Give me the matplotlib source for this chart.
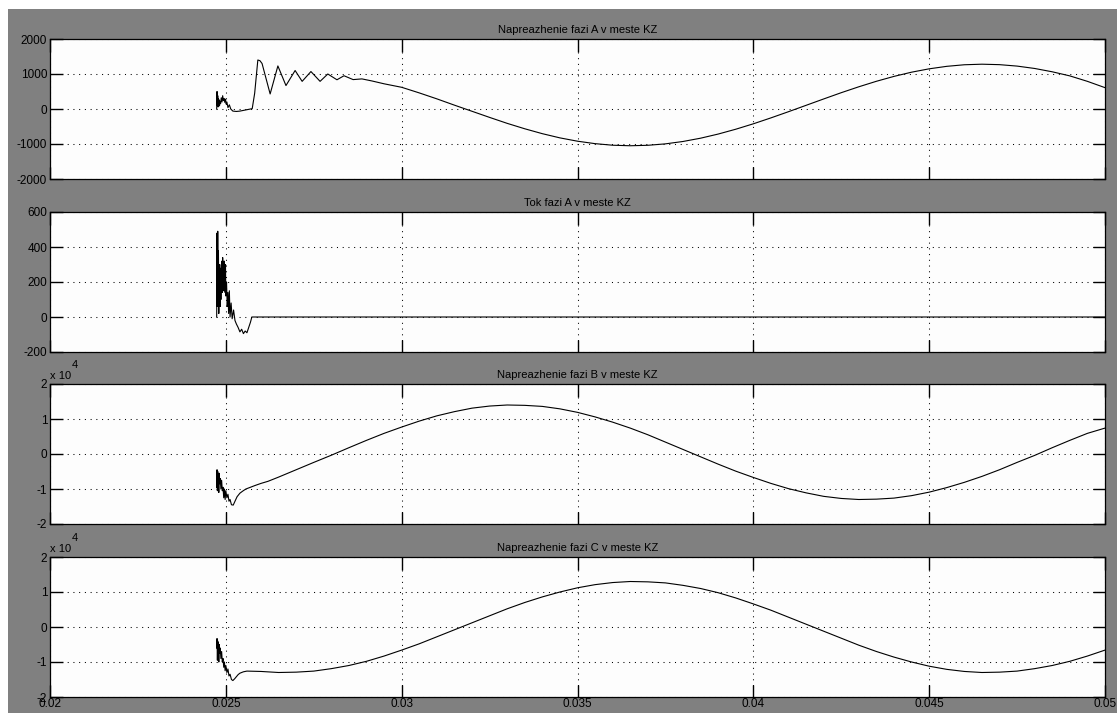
import matplotlib
matplotlib.use("Agg")
import matplotlib.pyplot as plt
from matplotlib.patches import Rectangle

plt.rcParams['font.family'] = ['Liberation Sans', 'DejaVu Sans']
plt.rcParams['axes.unicode_minus'] = False

# ---------------- data ----------------
titles = ["Napreazhenie fazi A v meste KZ", "Tok fazi A v meste KZ",
          "Napreazhenie fazi B v meste KZ", "Napreazhenie fazi C v meste KZ"]

# Voltage phase A [V]
t_ua = [0.02474, 0.02475, 0.02476, 0.02477, 0.02478, 0.02479, 0.02480, 0.02481, 0.02482,
        0.02483, 0.02485, 0.02487, 0.02489, 0.02491, 0.02493, 0.02495, 0.02497, 0.02499,
        0.02501, 0.02503, 0.02506, 0.02510, 0.02514, 0.02520, 0.02530, 0.02540, 0.02550,
        0.02560, 0.02575, 0.02582, 0.02591, 0.02597, 0.02603, 0.02626, 0.02648, 0.02671,
        0.02697, 0.02717, 0.02742, 0.02768, 0.02790, 0.02816, 0.02836, 0.02862, 0.02887,
        0.02916, 0.02950, 0.03000, 0.03050, 0.03100, 0.03150, 0.03200, 0.03250, 0.03300,
        0.03350, 0.03400, 0.03450, 0.03500, 0.03550, 0.03600, 0.03650, 0.03700, 0.03750,
        0.03800, 0.03850, 0.03900, 0.03950, 0.04000, 0.04050, 0.04100, 0.04150, 0.04200,
        0.04250, 0.04300, 0.04350, 0.04400, 0.04450, 0.04500, 0.04550, 0.04600, 0.04650,
        0.04700, 0.04750, 0.04800, 0.04850, 0.04900, 0.04950, 0.05000]
u_a = [0, 500, 100, 380, 60, 300, 150, 260, 90,
       220, 150, 320, 200, 380, 240, 300, 190, 280,
       140, 200, 40, 120, 0, -60, -70, -60, -40,
       -20, 10, 450, 1400, 1380, 1300, 430, 1230, 670,
       1100, 790, 1070, 790, 1000, 835, 950, 840, 860,
       800, 720, 620, 460, 290, 110, -65, -240, -410,
       -565, -705, -825, -920, -990, -1035, -1050, -1037, -996,
       -928, -834, -716, -578, -423, -254, -77, 105, 287,
       466, 635, 792, 932, 1052, 1148, 1219, 1264, 1280,
       1267, 1226, 1158, 1063, 946, 790, 610]

# Current phase A [A]
t_ia = [0.02474, 0.02475, 0.02476, 0.02477, 0.02478, 0.02479, 0.02480, 0.02481, 0.02482,
        0.02483, 0.02484, 0.02485, 0.02486, 0.02487, 0.02488, 0.02489, 0.02490, 0.02491,
        0.02492, 0.02493, 0.02494, 0.02495, 0.02496, 0.02497, 0.02498, 0.02499, 0.02500,
        0.02502, 0.02504, 0.02506, 0.02508, 0.02510, 0.02512, 0.02515, 0.02518, 0.02522,
        0.02526, 0.02530, 0.02535, 0.02540, 0.02545, 0.02550, 0.02555, 0.02560, 0.02565,
        0.02570, 0.02574, 0.05000]
i_a = [0, 480, 60, 490, 120, 380, 20, 300, 80,
       280, 60, 250, 100, 300, 150, 320, 140, 340,
       200, 300, 150, 320, 180, 260, 140, 300, 120,
       200, 60, 140, 20, 150, 0, 80, -10, 40,
       -20, -40, -60, -85, -70, -95, -80, -90, -60,
       -30, 0, 0]

# Voltage phase B [x 10^4 V]
t_ub = [0.02474, 0.02475, 0.02476, 0.02477, 0.02478, 0.02479, 0.02480, 0.02481, 0.02482,
        0.02484, 0.02486, 0.02488, 0.02490, 0.02492, 0.02494, 0.02496, 0.02498, 0.02500,
        0.02503, 0.02506, 0.02509, 0.02512, 0.02516, 0.02521, 0.02526, 0.02532, 0.02540,
        0.02548, 0.02557, 0.02570, 0.02583, 0.02600, 0.02620, 0.02650, 0.02700, 0.02750,
        0.02800, 0.02850, 0.02900, 0.02950, 0.03000, 0.03050, 0.03100, 0.03150, 0.03200,
        0.03250, 0.03300, 0.03350, 0.03400, 0.03450, 0.03500, 0.03550, 0.03600, 0.03650,
        0.03700, 0.03750, 0.03800, 0.03850, 0.03900, 0.03950, 0.04000, 0.04050, 0.04100,
        0.04150, 0.04200, 0.04250, 0.04300, 0.04350, 0.04400, 0.04450, 0.04500, 0.04550,
        0.04600, 0.04650, 0.04700, 0.04750, 0.04800, 0.04850, 0.04900, 0.04950, 0.05000]
u_b = [-0.95, -0.45, -1.05, -0.5, -0.9, -0.6, -1.1, -0.55, -0.85,
       -0.7, -1.0, -0.75, -1.05, -0.95, -1.25, -1.0, -1.3, -1.05,
       -1.25, -1.15, -1.35, -1.3, -1.45, -1.46, -1.35, -1.22, -1.12,
       -1.06, -1.0, -0.95, -0.9, -0.84, -0.78, -0.66, -0.45, -0.24,
       -0.035, 0.18, 0.39, 0.59, 0.77, 0.94, 1.09, 1.21, 1.31,
       1.37, 1.40, 1.39, 1.36, 1.29, 1.19, 1.06, 0.91, 0.74,
       0.55, 0.34, 0.13, -0.08, -0.29, -0.49, -0.67, -0.84, -0.99,
       -1.11, -1.21, -1.27, -1.30, -1.29, -1.26, -1.19, -1.09, -0.96,
       -0.81, -0.64, -0.45, -0.24, -0.04, 0.18, 0.39, 0.59, 0.74]

# Voltage phase C [x 10^4 V]
t_uc = [0.02474, 0.02475, 0.02476, 0.02477, 0.02478, 0.02479, 0.02480, 0.02481, 0.02482,
        0.02484, 0.02486, 0.02488, 0.02490, 0.02492, 0.02494, 0.02496, 0.02498, 0.02500,
        0.02503, 0.02506, 0.02509, 0.02512, 0.02516, 0.02520, 0.02525, 0.02530, 0.02535,
        0.02540, 0.02550, 0.02560, 0.02600, 0.02650, 0.02700, 0.02750, 0.02800, 0.02850,
        0.02900, 0.02950, 0.03000, 0.03050, 0.03100, 0.03150, 0.03200, 0.03250, 0.03300,
        0.03350, 0.03400, 0.03450, 0.03500, 0.03550, 0.03600, 0.03650, 0.03700, 0.03750,
        0.03800, 0.03850, 0.03900, 0.03950, 0.04000, 0.04050, 0.04100, 0.04150, 0.04200,
        0.04250, 0.04300, 0.04350, 0.04400, 0.04450, 0.04500, 0.04550, 0.04600, 0.04650,
        0.04700, 0.04750, 0.04800, 0.04850, 0.04900, 0.04950, 0.05000]
u_c = [-0.6, -0.33, -0.95, -0.4, -0.8, -0.45, -1.0, -0.5, -0.75,
       -0.6, -0.9, -0.7, -1.0, -0.9, -1.15, -1.0, -1.25, -1.1,
       -1.3, -1.2, -1.4, -1.35, -1.5, -1.53, -1.48, -1.42, -1.36,
       -1.32, -1.28, -1.26, -1.27, -1.30, -1.29, -1.26, -1.19, -1.10,
       -0.98, -0.83, -0.66, -0.48, -0.28, -0.08, 0.12, 0.32, 0.52,
       0.70, 0.86, 1.00, 1.12, 1.21, 1.27, 1.30, 1.29, 1.26,
       1.19, 1.10, 0.98, 0.83, 0.66, 0.48, 0.28, 0.08, -0.12,
       -0.32, -0.52, -0.70, -0.86, -1.00, -1.12, -1.21, -1.27, -1.30,
       -1.29, -1.26, -1.19, -1.10, -0.98, -0.83, -0.66]

series_t = [t_ua, t_ia, t_ub, t_uc]
series_v = [u_a, i_a, u_b, u_c]
y_limits = [(-2000, 2000), (-200, 600), (-2, 2), (-2, 2)]
y_ticks = [[-2000, -1000, 0, 1000, 2000], [-200, 0, 200, 400, 600],
           [-2, -1, 0, 1, 2], [-2, -1, 0, 1, 2]]
x_ticks = [0.02, 0.025, 0.03, 0.035, 0.04, 0.045, 0.05]
x_ticklabels = ["0.02", "0.025", "0.03", "0.035", "0.04", "0.045", "0.05"]
has_exponent = [False, False, True, True]

# ---------------- figure ----------------
W, H = 1117, 713
fig = plt.figure(figsize=(W / 100, H / 100), dpi=100)
fig.patch.set_facecolor('white')
bg = Rectangle((8 / W, 0), 1 - 8 / W, (H - 9) / H,
               transform=fig.transFigure, facecolor='#808080',
               edgecolor='none', zorder=-10)
fig.add_artist(bg)

left_px, right_px = 50, 1105
tops = [39, 212, 384, 557]
height_px = 140

for k in range(4):
    top = tops[k]
    ax = fig.add_axes([left_px / W, (H - top - height_px) / H,
                       (right_px - left_px) / W, height_px / H])
    ax.set_zorder(1)
    ax.set_facecolor('#fdfdfd')
    ax.plot(series_t[k], series_v[k], color='black', lw=0.8)
    ax.set_xlim(0.02, 0.05)
    ax.set_ylim(*y_limits[k])
    ax.set_xticks(x_ticks)
    ax.set_yticks(y_ticks[k])
    ax.set_yticklabels([str(v) for v in y_ticks[k]])
    if k == 3:
        ax.set_xticklabels(x_ticklabels)
    else:
        ax.set_xticklabels([])
    ax.tick_params(direction='in', length=9, width=1.0, top=True, right=True,
                   labelsize=8.5, pad=2, colors='black')
    ax.tick_params(axis='x', pad=1)
    ax.grid(True, color='black', linestyle=(0, (1, 4.5)), linewidth=0.75)
    for s in ax.spines.values():
        s.set_color('black')
        s.set_linewidth(0.9)
    ax.set_title(titles[k], fontsize=8, pad=4)
    if has_exponent[k]:
        ax.text(0.0, 1.02, "x 10", transform=ax.transAxes, fontsize=8,
                ha='left', va='bottom')
        ax.text(0.021, 1.10, "4", transform=ax.transAxes, fontsize=8,
                ha='left', va='bottom')

fig.savefig("out.png", dpi=100, facecolor=fig.get_facecolor())
